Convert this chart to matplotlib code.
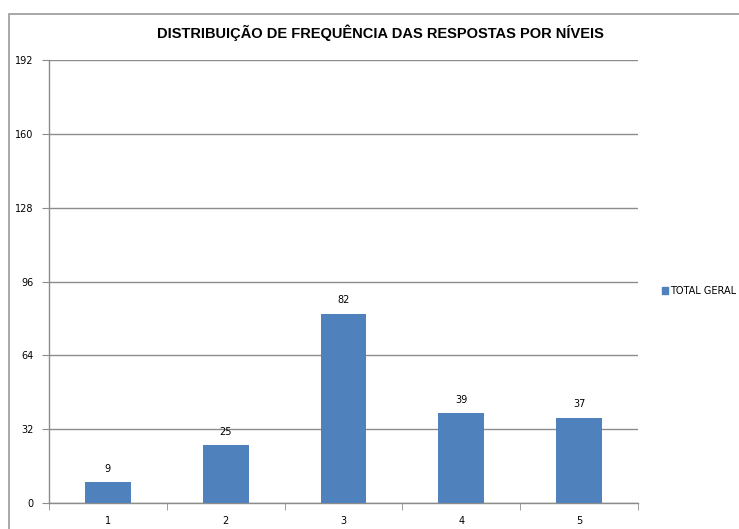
import matplotlib
matplotlib.use("Agg")
import matplotlib.pyplot as plt
from matplotlib.patches import Rectangle, Patch

categories = ["1", "2", "3", "4", "5"]
values = [9, 25, 82, 39, 37]
yticks = [0, 32, 64, 96, 128, 160, 192]
title = "DISTRIBUIÇÃO DE FREQUÊNCIA DAS RESPOSTAS POR NÍVEIS"
series_name = "TOTAL GERAL"

W, H = 739, 529
fig = plt.figure(figsize=(W / 100, H / 100), dpi=100)
fig.patch.set_facecolor("white")

# outer chart frame
frame = Rectangle((9 / W, -0.1), 1.2, (529 - 14) / H + 0.1, transform=fig.transFigure,
                  fill=False, edgecolor="#9a9a9a", linewidth=1.2, clip_on=False)
fig.patches.append(frame)

ax = fig.add_axes([49 / W, (H - 503) / H, (638 - 49) / W, (503 - 60) / H])
x = list(range(len(categories)))
bars = ax.bar(x, values, width=0.39, color="#4F81BD", zorder=3)
ax.set_xlim(-0.5, len(categories) - 0.5)
ax.set_ylim(0, 192)
ax.set_yticks(yticks)
ax.set_yticklabels([str(t) for t in yticks], fontsize=7, family="DejaVu Sans")
ax.set_xticks(x)
ax.set_xticklabels(categories, fontsize=7, family="DejaVu Sans")
ax.xaxis.set_tick_params(length=0, pad=9)
ax.yaxis.set_tick_params(length=5, color="#8c8c8c", pad=6)
# minor ticks at category boundaries
ax.set_xticks([i - 0.5 for i in range(len(categories) + 1)], minor=True)
ax.xaxis.set_tick_params(which="minor", length=5, color="#8c8c8c")
ax.grid(axis="y", color="#8c8c8c", linewidth=1, zorder=0)
for s in ["top", "right"]:
    ax.spines[s].set_visible(False)
for s in ["left", "bottom"]:
    ax.spines[s].set_color("#8c8c8c")
    ax.spines[s].set_linewidth(1)

for xi, v in zip(x, values):
    ax.annotate(str(v), (xi, v), xytext=(0, 6), textcoords="offset points",
                ha="center", va="bottom", fontsize=7, family="DejaVu Sans")

fig.text(380 / W, 1 - 33 / H, title, ha="center", va="center", fontsize=10.5,
         fontweight="bold", family=["Liberation Sans", "DejaVu Sans"])

fig.legend(handles=[Patch(color="#4F81BD", label=series_name)], loc="center left",
           bbox_to_anchor=(657 / W, 1 - 291 / H), frameon=False, fontsize=7,
           handlelength=0.6, handleheight=0.6, handletextpad=0.2, borderpad=0)

fig.savefig("out.png", dpi=100)
